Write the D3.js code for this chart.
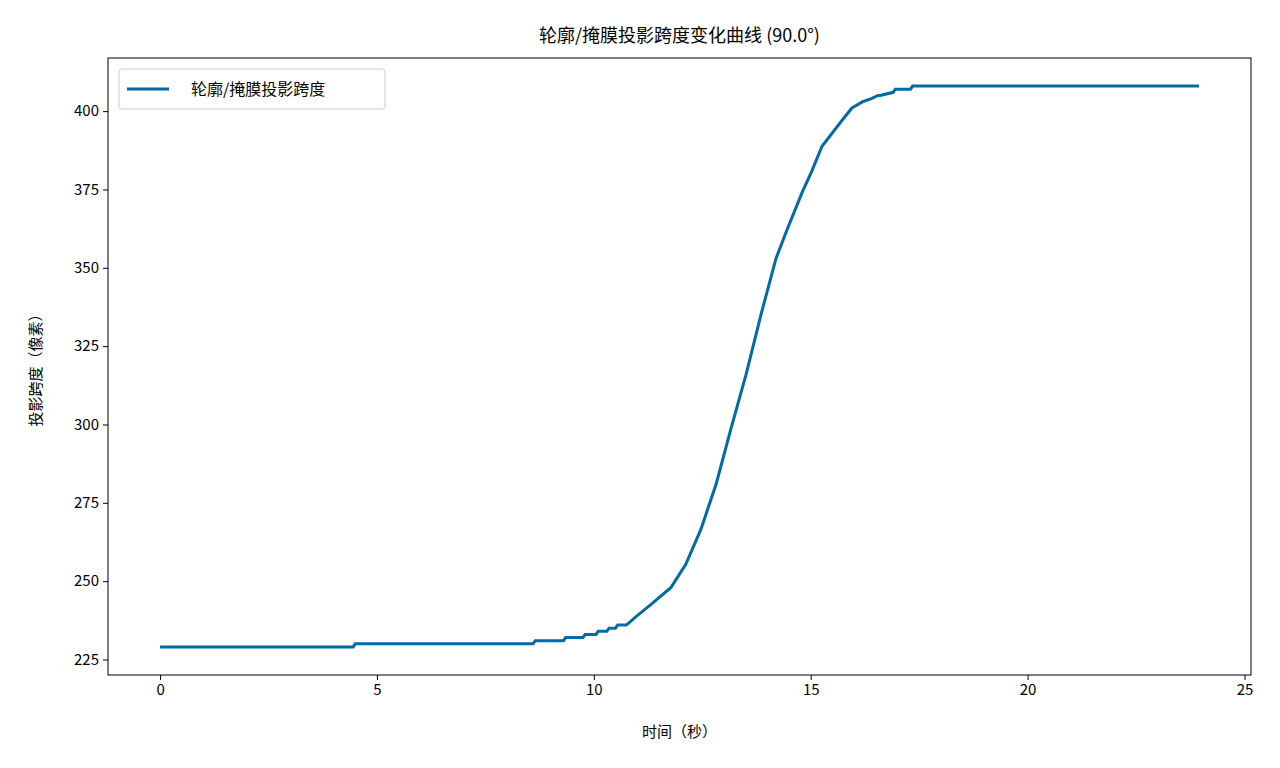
<!DOCTYPE html>
<html><head><meta charset="utf-8">
<script src="https://cdn.jsdelivr.net/npm/d3@7"></script>
<style>
body{margin:0;background:#fff;font-family:"Noto Sans CJK SC","DejaVu Sans",sans-serif}
</style></head><body>
<svg id="c" width="1280" height="768"></svg>
<script>
// time (s) and span (px)
var times = [0, 4.45, 4.5, 8.6, 8.65, 9.3, 9.35, 9.75, 9.8, 10.05, 10.1, 10.3, 10.35, 10.5, 10.55, 10.75,
  11.0, 11.32, 11.78, 12.12, 12.47, 12.82, 13.16, 13.51, 13.86, 14.2, 14.45, 14.8, 15.03, 15.26,
  15.72, 15.95, 16.2, 16.4, 16.55, 16.6, 16.9, 16.95, 17.3, 17.35, 23.95];
var spans = [229, 229, 230, 230, 231, 231, 232, 232, 233, 233, 234, 234, 235, 235, 236, 236,
  239, 242.6, 248, 255.4, 266.6, 281, 298.6, 316, 335.4, 353, 362, 374, 381, 388.8,
  397, 401, 403, 404, 405, 405, 406, 407, 407, 408, 408];
var xTicks = [0, 5, 10, 15, 20, 25];
var yTicks = [225, 250, 275, 300, 325, 350, 375, 400];
var title = "轮廓/掩膜投影跨度变化曲线 (90.0°)";
var seriesName = "轮廓/掩膜投影跨度";

var data = times.map((t, i) => ({ t: t, v: spans[i] }));
var svg = d3.select("#c");
var pLeft = 108, pRight = 1251, pTop = 58, pBottom = 675;

var x = d3.scaleLinear().domain([-1.2, 25.15]).range([pLeft, pRight]);
var y = d3.scaleLinear().domain([220.05, 416.95]).range([pBottom, pTop]);

svg.append("g").attr("transform", "translate(0," + pBottom + ")")
  .call(d3.axisBottom(x).tickValues(xTicks).tickSize(5).tickPadding(4));
svg.append("g").attr("transform", "translate(" + pLeft + ",0)")
  .call(d3.axisLeft(y).tickValues(yTicks).tickSize(5).tickPadding(4));
svg.selectAll(".tick text").attr("font-size", 15).attr("fill", "#000")
  .attr("font-family", "Noto Sans CJK SC, sans-serif");
svg.selectAll(".domain").remove();

svg.append("rect").attr("x", pLeft).attr("y", pTop).attr("width", pRight - pLeft).attr("height", pBottom - pTop)
  .attr("fill", "none").attr("stroke", "#000").attr("stroke-width", 1);

var line = d3.line().x(d => x(d.t)).y(d => y(d.v));
svg.append("path").datum(data).attr("d", line).attr("fill", "none")
  .attr("stroke", "#006ba4").attr("stroke-width", 3);

svg.append("text").attr("x", (pLeft + pRight) / 2).attr("y", 42).attr("text-anchor", "middle")
  .attr("font-size", 18).text(title);
svg.append("text").attr("x", (pLeft + pRight) / 2).attr("y", 737).attr("text-anchor", "middle")
  .attr("font-size", 15).text("时间（秒）");
svg.append("text").attr("transform", "translate(41," + ((pTop + pBottom) / 2) + ") rotate(-90)")
  .attr("text-anchor", "middle").attr("font-size", 15).text("投影跨度（像素）");

// legend
var lg = svg.append("g").attr("transform", "translate(119,69)");
lg.append("rect").attr("width", 266).attr("height", 40).attr("rx", 3)
  .attr("fill", "#fff").attr("stroke", "#ccc");
lg.append("line").attr("x1", 8).attr("x2", 50).attr("y1", 20).attr("y2", 20)
  .attr("stroke", "#006ba4").attr("stroke-width", 3);
lg.append("text").attr("x", 72).attr("y", 26).attr("font-size", 16).text(seriesName);
</script>
</body></html>
